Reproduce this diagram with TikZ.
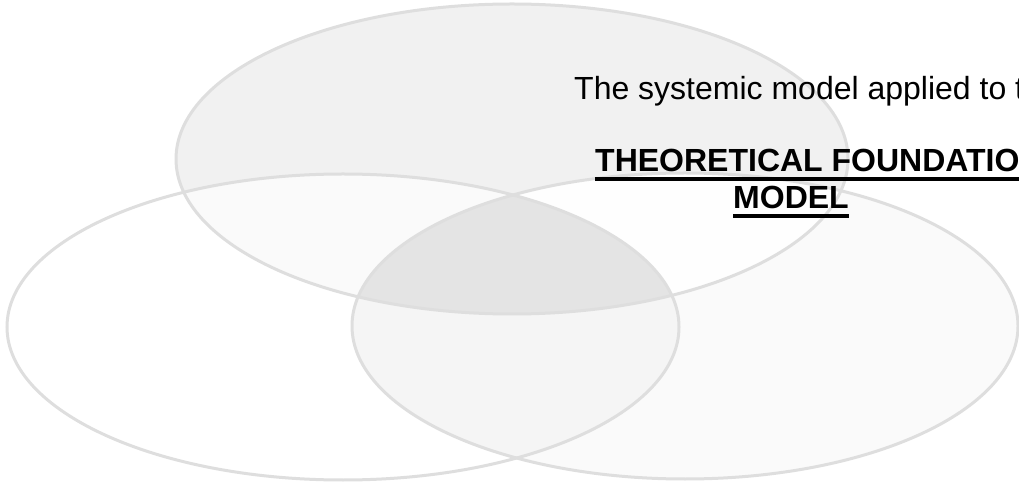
\documentclass[tikz,border=0pt]{standalone}
\usepackage{fontspec}
\setmainfont{Liberation Sans}
\usetikzlibrary{positioning}
\definecolor{VennLine}{RGB}{222,222,222}
\definecolor{VennTop}{RGB}{241,241,241}
\definecolor{VennLeft}{RGB}{255,255,255}
\definecolor{VennRight}{RGB}{250,250,250}
\definecolor{VennTopLeft}{RGB}{250,250,250}
\definecolor{VennTopRight}{RGB}{254,254,254}
\definecolor{VennLeftRight}{RGB}{245,245,245}
\definecolor{VennCore}{RGB}{228,228,228}
\newcommand{\thickul}[1]{\leavevmode\setbox0=\hbox{#1}\rlap{\rule[-9.5pt]{\wd0}{4pt}}\box0}

\begin{document}
\begin{tikzpicture}[x=1pt,y=1pt]
  \path[use as bounding box] (0,0) rectangle (1019,487);
  \clip (0,0) rectangle (1019,487);
  \coordinate (topc) at (512,328);
  \coordinate (leftc) at (343,160);
  \coordinate (rightc) at (685,161);

  % Single sets
  \fill[VennTop] (topc) ellipse [x radius=336, y radius=155];
  \fill[VennLeft] (leftc) ellipse [x radius=336, y radius=153];
  \fill[VennRight] (rightc) ellipse [x radius=333, y radius=153];

  % Overlaps
  \begin{scope}
    \clip (topc) ellipse [x radius=336, y radius=155];
    \fill[VennTopLeft] (leftc) ellipse [x radius=336, y radius=153];
    \fill[VennTopRight] (rightc) ellipse [x radius=333, y radius=153];
  \end{scope}
  \begin{scope}
    \clip (leftc) ellipse [x radius=336, y radius=153];
    \fill[VennLeftRight] (rightc) ellipse [x radius=333, y radius=153];
    \clip (topc) ellipse [x radius=336, y radius=155];
    \fill[VennCore] (rightc) ellipse [x radius=333, y radius=153];
  \end{scope}

  % Outlines
  \draw[VennLine, line width=3pt] (topc) ellipse [x radius=336, y radius=155];
  \draw[VennLine, line width=3pt] (leftc) ellipse [x radius=336, y radius=153];
  \draw[VennLine, line width=3pt] (rightc) ellipse [x radius=333, y radius=153];

  % Title
  \node[anchor=base west, inner sep=0] (intro) at (574,387) {
    {\fontsize{32}{37}\selectfont The systemic model applied to the}
  };
  \node[anchor=base west, inner sep=0] (title) at (595,315) {
    {\fontsize{32}{37}\selectfont\bfseries\thickul{THEORETICAL FOUNDATIONS}}
  };
  \node[anchor=base, inner sep=0] (titlemodel) at (791,278) {
    {\fontsize{32}{37}\selectfont\bfseries\thickul{MODEL}}
  };
\end{tikzpicture}
\end{document}
